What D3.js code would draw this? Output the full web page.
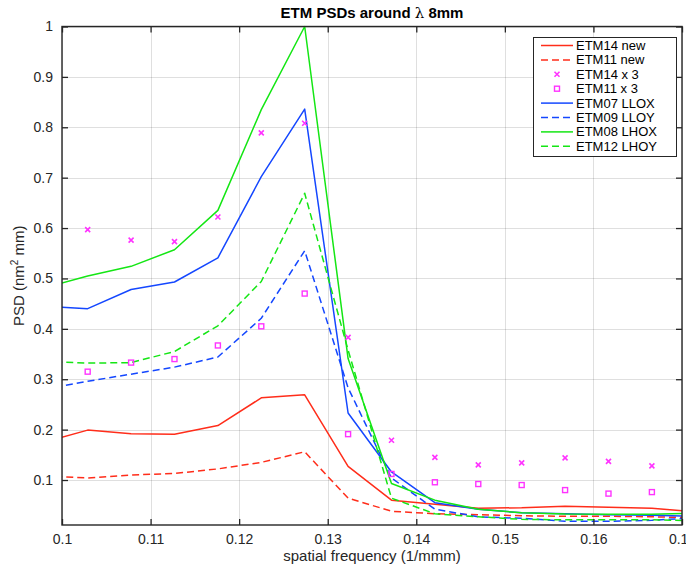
<!DOCTYPE html>
<html>
<head>
<meta charset="utf-8">
<script src="https://cdn.jsdelivr.net/npm/d3@7"></script>
<style>
  html, body { margin: 0; padding: 0; background: #fff; }
  svg { display: block; font-family: "Liberation Sans", Arial, Helvetica, sans-serif; }
</style>
</head>
<body>
<svg id="chart" width="686" height="567"></svg>
<script>
// Frequency grid (1/mm); the first and last line points fall just outside the axes
const freqLine = [0.0980, 0.1029, 0.1078, 0.1127, 0.1176, 0.1225, 0.1274, 0.1323,
                  0.1372, 0.1421, 0.1470, 0.1519, 0.1568, 0.1617, 0.1666, 0.1715];
const freqMarker = [0.1029, 0.1078, 0.1127, 0.1176, 0.1225, 0.1274, 0.1323,
                    0.1372, 0.1421, 0.1470, 0.1519, 0.1568, 0.1617, 0.1666];

// PSD values (nm^2 mm)
const etm14New = [0.175, 0.199, 0.192, 0.191, 0.208, 0.263, 0.269, 0.127, 0.060, 0.052, 0.044, 0.045, 0.048, 0.046, 0.044, 0.037];
const etm11New = [0.108, 0.104, 0.110, 0.113, 0.122, 0.135, 0.156, 0.064, 0.038, 0.033, 0.031, 0.029, 0.028, 0.028, 0.027, 0.025];
const etm14x3  = [0.597, 0.576, 0.573, 0.622, 0.789, 0.808, 0.383, 0.179, 0.145, 0.130, 0.134, 0.144, 0.137, 0.128];
const etm11x3  = [0.315, 0.333, 0.340, 0.367, 0.405, 0.470, 0.191, 0.112, 0.0955, 0.092, 0.090, 0.080, 0.073, 0.076];
const etm07LLOX = [0.445, 0.440, 0.478, 0.493, 0.541, 0.702, 0.836, 0.233, 0.116, 0.055, 0.042, 0.035, 0.033, 0.031, 0.030, 0.028];
const etm09LLOY = [0.280, 0.296, 0.310, 0.324, 0.344, 0.421, 0.555, 0.283, 0.104, 0.042, 0.027, 0.024, 0.018, 0.018, 0.020, 0.025];
const etm08LHOX = [0.481, 0.505, 0.524, 0.557, 0.635, 0.835, 1.000, 0.341, 0.093, 0.060, 0.042, 0.035, 0.0325, 0.032, 0.032, 0.034];
const etm12LHOY = [0.335, 0.332, 0.333, 0.355, 0.406, 0.494, 0.669, 0.358, 0.064, 0.033, 0.027, 0.022, 0.021, 0.021, 0.021, 0.019];

const xTicks = [0.1, 0.11, 0.12, 0.13, 0.14, 0.15, 0.16, 0.17];
const yTicks = [0.1, 0.2, 0.3, 0.4, 0.5, 0.6, 0.7, 0.8, 0.9, 1];
const xDomain = [0.1, 0.17];
const yDomain = [0.0107, 1];

const RED = "#ff2d1a", BLUE = "#1447ff", GREEN = "#14e614", MAGENTA = "#ff33ff";

const lineSeries = [
  { name: "ETM14 new",  values: etm14New,  color: RED,   dash: null },
  { name: "ETM11 new",  values: etm11New,  color: RED,   dash: "7,4" },
  { name: "ETM07 LLOX", values: etm07LLOX, color: BLUE,  dash: null },
  { name: "ETM09 LLOY", values: etm09LLOY, color: BLUE,  dash: "7,4" },
  { name: "ETM08 LHOX", values: etm08LHOX, color: GREEN, dash: null },
  { name: "ETM12 LHOY", values: etm12LHOY, color: GREEN, dash: "7,4" }
];

const legendItems = [
  { name: "ETM14 new",  kind: "line",   color: RED,     dash: null },
  { name: "ETM11 new",  kind: "line",   color: RED,     dash: "7,4" },
  { name: "ETM14 x 3",  kind: "cross",  color: MAGENTA },
  { name: "ETM11 x 3",  kind: "square", color: MAGENTA },
  { name: "ETM07 LLOX", kind: "line",   color: BLUE,    dash: null },
  { name: "ETM09 LLOY", kind: "line",   color: BLUE,    dash: "7,4" },
  { name: "ETM08 LHOX", kind: "line",   color: GREEN,   dash: null },
  { name: "ETM12 LHOY", kind: "line",   color: GREEN,   dash: "7,4" }
];

const svg = d3.select("#chart");
const plot = { left: 62, right: 682, top: 26.5, bottom: 525 };
const AXIS = "#262626";

const x = d3.scaleLinear().domain(xDomain).range([plot.left, plot.right]);
const y = d3.scaleLinear().domain(yDomain).range([plot.bottom, plot.top]);

// grid
const grid = svg.append("g").attr("stroke", "#262626").attr("stroke-opacity", 0.15).attr("stroke-width", 1);
grid.selectAll(".gx").data(xTicks).join("line")
  .attr("x1", d => Math.round(x(d)) + 0.5).attr("x2", d => Math.round(x(d)) + 0.5)
  .attr("y1", plot.top).attr("y2", plot.bottom);
grid.selectAll(".gy").data(yTicks).join("line")
  .attr("y1", d => Math.round(y(d)) + 0.5).attr("y2", d => Math.round(y(d)) + 0.5)
  .attr("x1", plot.left).attr("x2", plot.right);

// clip for data
svg.append("defs").append("clipPath").attr("id", "plotClip")
  .append("rect").attr("x", plot.left).attr("y", plot.top - 1)
  .attr("width", plot.right - plot.left).attr("height", plot.bottom - plot.top + 1);

const data = svg.append("g").attr("clip-path", "url(#plotClip)");

const line = d3.line().x(d => x(d[0])).y(d => y(d[1]));
lineSeries.forEach(s => {
  data.append("path")
    .attr("d", line(freqLine.map((f, i) => [f, s.values[i]])))
    .attr("fill", "none")
    .attr("stroke", s.color)
    .attr("stroke-width", 1.5)
    .attr("stroke-dasharray", s.dash)
    .attr("stroke-linejoin", "round");
});

// x3 markers
const crossSize = 2.5;
data.selectAll(".cross").data(freqMarker.map((f, i) => [f, etm14x3[i]])).join("path")
  .attr("d", d => {
    const cx = x(d[0]), cy = y(d[1]), s = crossSize;
    return `M${cx - s},${cy - s}L${cx + s},${cy + s}M${cx - s},${cy + s}L${cx + s},${cy - s}`;
  })
  .attr("stroke", MAGENTA).attr("stroke-width", 1.6).attr("fill", "none");

const sq = 5;
data.selectAll(".square").data(freqMarker.map((f, i) => [f, etm11x3[i]])).join("rect")
  .attr("x", d => x(d[0]) - sq / 2).attr("y", d => y(d[1]) - sq / 2)
  .attr("width", sq).attr("height", sq)
  .attr("fill", "none").attr("stroke", MAGENTA).attr("stroke-width", 1.4);

// axes box with inward ticks on all sides
const axes = svg.append("g");
const tickLen = 6;
const xAxisB = d3.axisBottom(x).tickValues(xTicks).tickSizeInner(-tickLen).tickSizeOuter(0)
  .tickFormat(d => d3.format("")(+d.toFixed(2))).tickPadding(9);
const xAxisT = d3.axisTop(x).tickValues(xTicks).tickSizeInner(-tickLen).tickSizeOuter(0).tickFormat("");
const yAxisL = d3.axisLeft(y).tickValues(yTicks).tickSizeInner(-tickLen).tickSizeOuter(0)
  .tickFormat(d => d3.format("")(+d.toFixed(1))).tickPadding(9);
const yAxisR = d3.axisRight(y).tickValues(yTicks).tickSizeInner(-tickLen).tickSizeOuter(0).tickFormat("");

function styleAxis(g) {
  g.select(".domain").remove();
  g.selectAll(".tick line").attr("stroke", AXIS).attr("stroke-width", 1.3);
  g.selectAll(".tick text").attr("fill", AXIS).attr("font-size", 14)
    .attr("font-family", "'Liberation Sans', Arial, sans-serif");
}
axes.append("g").attr("transform", `translate(0,${plot.bottom})`).call(xAxisB).call(styleAxis);
axes.append("g").attr("transform", `translate(0,${plot.top})`).call(xAxisT).call(styleAxis);
axes.append("g").attr("transform", `translate(${plot.left},0)`).call(yAxisL).call(styleAxis);
axes.append("g").attr("transform", `translate(${plot.right},0)`).call(yAxisR).call(styleAxis);

axes.append("rect")
  .attr("x", plot.left).attr("y", plot.top)
  .attr("width", plot.right - plot.left).attr("height", plot.bottom - plot.top)
  .attr("fill", "none").attr("stroke", AXIS).attr("stroke-width", 1.4);

// title
const title = svg.append("text")
  .attr("x", (plot.left + plot.right) / 2).attr("y", 18)
  .attr("text-anchor", "middle").attr("font-size", 15).attr("font-weight", "bold").attr("fill", "#000");
title.append("tspan").text("ETM PSDs around ");
title.append("tspan").attr("font-weight", "normal").attr("font-family", "'DejaVu Serif', serif").attr("font-size", 15).text("λ");
title.append("tspan").text(" 8mm");

// axis labels
svg.append("text")
  .attr("x", (plot.left + plot.right) / 2).attr("y", 561)
  .attr("text-anchor", "middle").attr("font-size", 15).attr("fill", AXIS)
  .text("spatial frequency (1/mmm)");

const yl = svg.append("text")
  .attr("transform", `translate(24,${(plot.top + plot.bottom) / 2}) rotate(-90)`)
  .attr("text-anchor", "middle").attr("font-size", 15).attr("fill", AXIS);
yl.append("tspan").text("PSD (nm");
yl.append("tspan").attr("font-size", 10).attr("dy", -6).text("2");
yl.append("tspan").attr("dy", 6).text(" mm)");

// legend
const lg = svg.append("g");
lg.append("rect").attr("x", 533.5).attr("y", 37.5).attr("width", 143).attr("height", 119)
  .attr("fill", "#fff").attr("stroke", AXIS).attr("stroke-width", 1);
const rowY = i => 45.5 + i * 14.4;
legendItems.forEach((it, i) => {
  const cy = rowY(i);
  if (it.kind === "line") {
    lg.append("line").attr("x1", 541).attr("x2", 573).attr("y1", cy).attr("y2", cy)
      .attr("stroke", it.color).attr("stroke-width", 1.5).attr("stroke-dasharray", it.dash);
  } else if (it.kind === "cross") {
    const s = crossSize, cx = 557;
    lg.append("path").attr("d", `M${cx - s},${cy - s}L${cx + s},${cy + s}M${cx - s},${cy + s}L${cx + s},${cy - s}`)
      .attr("stroke", it.color).attr("stroke-width", 1.6);
  } else {
    lg.append("rect").attr("x", 557 - sq / 2).attr("y", cy - sq / 2).attr("width", sq).attr("height", sq)
      .attr("fill", "none").attr("stroke", it.color).attr("stroke-width", 1.4);
  }
  lg.append("text").attr("x", 576).attr("y", cy).attr("dy", "0.35em")
    .attr("font-size", 13).attr("fill", "#000").text(it.name);
});
</script>
</body>
</html>
